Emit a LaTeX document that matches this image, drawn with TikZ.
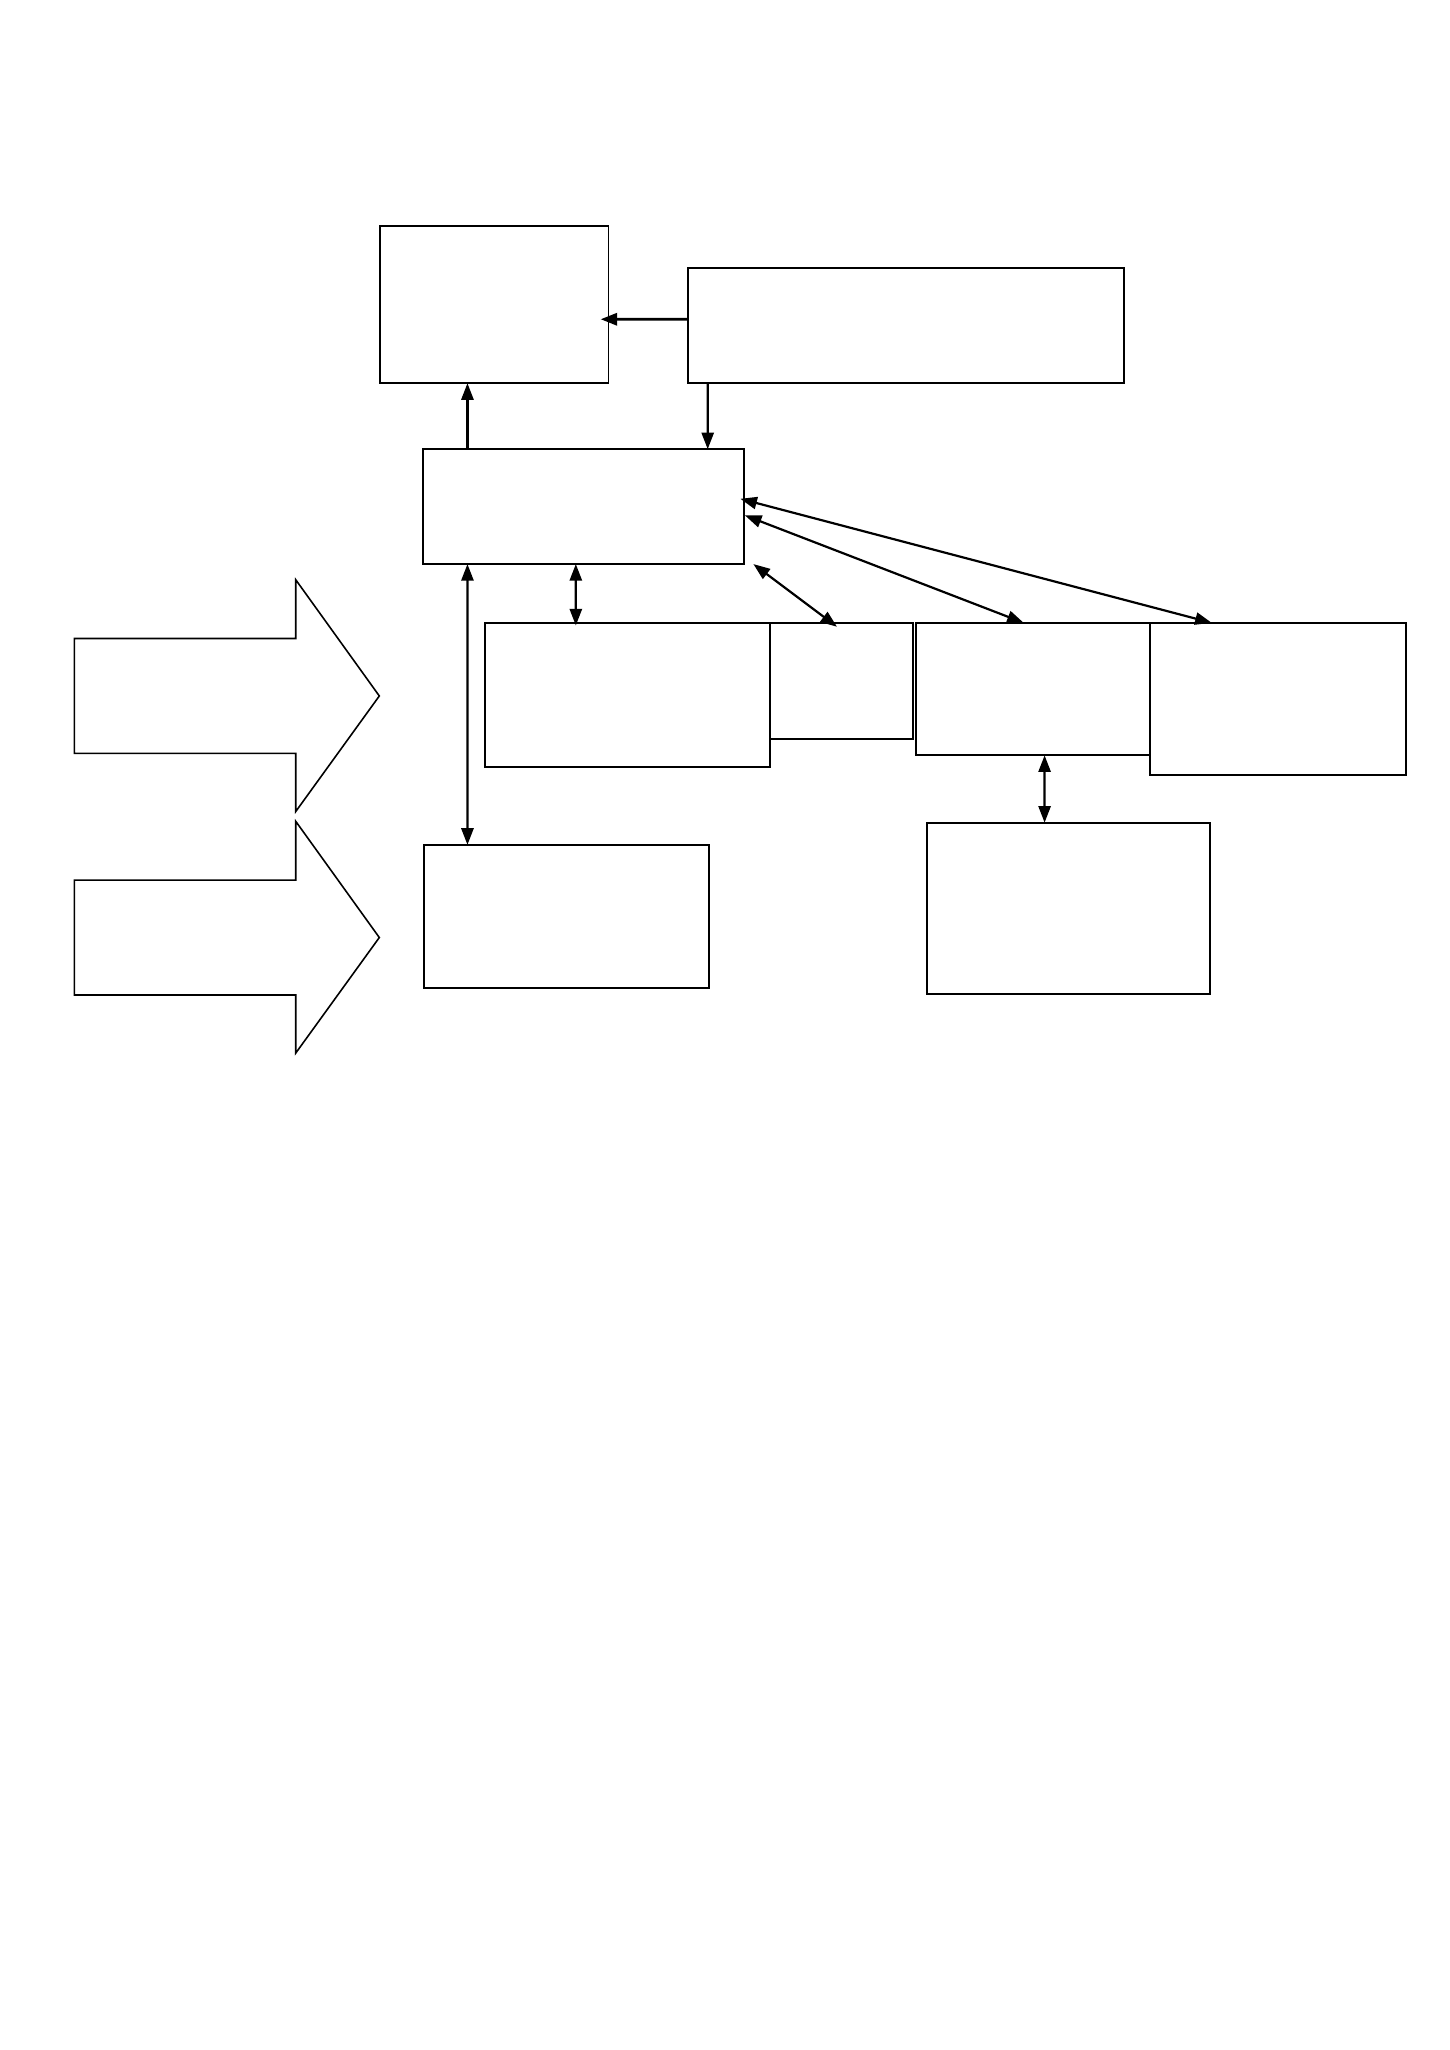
\documentclass[tikz,border=0pt]{standalone}
\usepackage{tikz}
\usetikzlibrary{arrows.meta, positioning, calc}
\newlength{\unitpx}
\setlength{\unitpx}{0.5352pt}
\tikzset{%
	box/.style={draw, rectangle, inner sep=0mm, outer sep=0mm, line width=0.8pt},
	boxwh/.style 2 args={minimum width=#1*\unitpx, minimum height=#2*\unitpx},
	sel/.style={->, line width=0.9pt},
	dsel/.style={<->, line width=0.9pt},
	bigarrow/.style={draw, line width=0.65pt, line join=miter}
}

\begin{document}
\begin{tikzpicture}[x=\unitpx, y=-\unitpx, >={Triangle[length=6.8pt, width=5pt]}]
	\useasboundingbox (0,0) rectangle (1110,1570);

	% top row
	\node[box, boxwh={175}{120.5}, anchor=north west] (A) at (291,173) {};
	\node[box, boxwh={333.5}{88}, anchor=north west] (B) at (527,205.5) {};
	\node[box, boxwh={245.5}{88}, anchor=north west] (C) at (324,344) {};

	% middle row
	\node[box, boxwh={218}{110.5}, anchor=north west] (D) at (371.5,477) {};
	\node[box, boxwh={110}{89}, anchor=north west] (E) at (D.north east) {};
	\node[box, boxwh={179.5}{101.5}, anchor=north west] (G) at (701.5,477) {};
	\node[box, boxwh={196}{116.5}, anchor=north west] (H) at (G.north east) {};

	% bottom row
	\node[box, boxwh={218.5}{110}, anchor=north west] (F) at (324.5,647) {};
	\node[box, boxwh={217}{131}, anchor=north west] (I) at (710,630) {};

	% big arrows on the left
	\foreach \yc in {533,718}
		\draw[bigarrow] (57,\yc-44) -- (226.5,\yc-44) -- (226.5,\yc-89) -- (290.5,\yc)
			-- (226.5,\yc+88.5) -- (226.5,\yc+44) -- (57,\yc+44) -- cycle;

	\draw[sel, line width=1.2pt] ($(B.west)+(0,-5)$) to ($(A.east)+(-6,11.25)$);
	\draw[sel] ($(B.south west)+(15,0)$) to ($(C.north)+(95.25,0)$);
	\draw[sel] ($(C.north west)+(34,0)$) to ($(A.south west)+(67,0)$);
	\draw[dsel] ($(C.south west)+(34,0)$) to ($(F.north west)+(33.5,0)$);
	\draw[dsel] ($(C.south west)+(117,0)$) to ($(D.north west)+(69.5,2)$);
	\draw[dsel] ($(C.south east)+(7.5,0)$) to ($(E.north west)+(51.5,3)$);
	\draw[dsel] ($(C.east)+(1,6.7)$) to ($(G.north west)+(82.5,0)$);
	\draw[dsel] ($(C.east)+(-2.5,-6)$) to ($(H.north west)+(47,0)$);
	\draw[dsel] ($(G.south west)+(98.5,0)$) to ($(I.north west)+(90,0)$);
\end{tikzpicture}
\end{document}
